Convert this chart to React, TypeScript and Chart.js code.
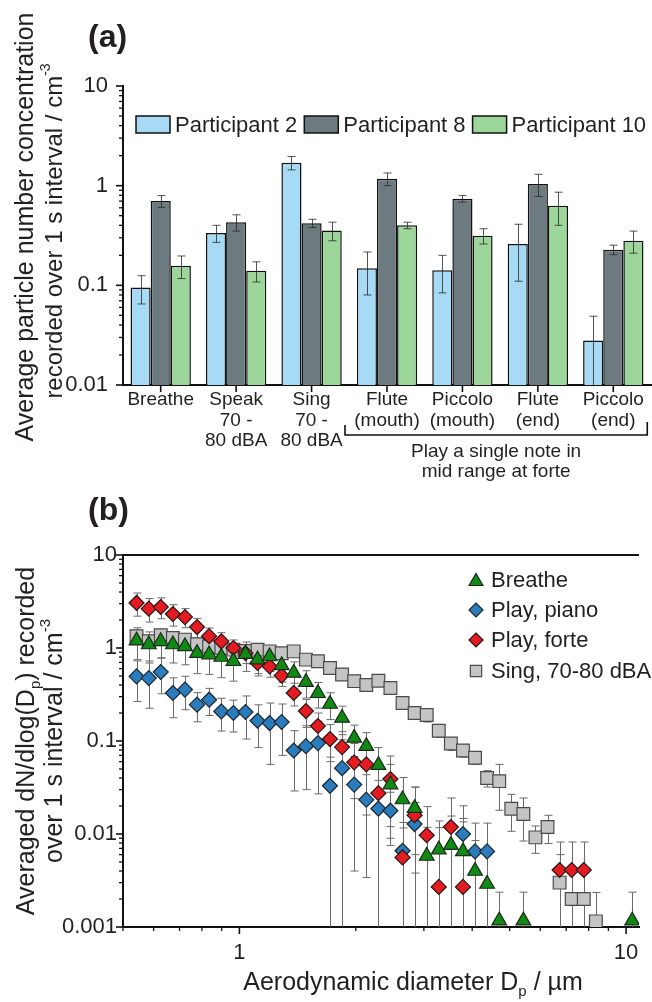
import React, { useEffect, useRef } from "react";
import Chart from "chart.js/auto";

const FONT = '"Liberation Sans", Arial, Helvetica, sans-serif';
const INK = "#231f20";

// ---- (a) average concentration per activity ----
const activities = [
  "Breathe",
  ["Speak", "70 -", "80 dBA"],
  ["Sing", "70 -", "80 dBA"],
  ["Flute", "(mouth)"],
  ["Piccolo", "(mouth)"],
  ["Flute", "(end)"],
  ["Piccolo", "(end)"],
];
const participantNames = ["Participant 2", "Participant 8", "Participant 10"];
const participant2 = [0.095, 0.335, 1.7, 0.148, 0.142, 0.26, 0.028];
const participant2Err = [0.03, 0.065, 0.26, 0.068, 0.058, 0.15, 0.021];
const participant8 = [0.7, 0.43, 0.42, 1.17, 0.74, 1.04, 0.228];
const participant8Err = [0.095, 0.08, 0.04, 0.17, 0.055, 0.26, 0.025];
const participant10 = [0.157, 0.14, 0.355, 0.4, 0.315, 0.63, 0.28];
const participant10Err = [0.04, 0.032, 0.075, 0.03, 0.055, 0.23, 0.07];

// ---- (b) size distributions (APS channel midpoints, µm) ----
const diameters = [
  0.542, 0.583, 0.626, 0.673, 0.723, 0.777, 0.835, 0.898, 0.965, 1.037,
  1.114, 1.197, 1.286, 1.382, 1.486, 1.596, 1.715, 1.843, 1.981, 2.129,
  2.288, 2.458, 2.642, 2.839, 3.051, 3.278, 3.523, 3.786, 4.068, 4.371,
  4.698, 5.048, 5.425, 5.829, 6.264, 6.732, 7.234, 7.774, 8.354, 8.977,
  9.647, 10.37,
];
const breathe = [
  1.2, 1.09, 1.18, 1.09, 1.04, 0.88, 0.85, 0.8, 0.72, 0.86,
  0.75, 0.81, 0.65, 0.54, 0.43, 0.326, 0.25, 0.177, 0.108, 0.088,
  0.055, 0.034, 0.0235, 0.019, 0.0058, 0.0068, 0.0076, 0.0065, 0.004, 0.0029,
  0.00117, null, 0.00117, null, null, null, null, null, null, null,
  null, 0.00117,
];
const breatheSd = [
  0.45, 0.4, 0.4, 0.4, 0.38, 0.35, 0.33, 0.32, 0.28, 0.3,
  0.25, 0.25, 0.22, 0.17, 0.14, 0.1, 0.08, 0.06, 0.04, 0.035,
  0.03, 0.022, 0.017, 0.013, 0.006, 0.007, 0.008, 0.007, 0.0045, 0.0035,
  0.0012, null, 0.0012, null, null, null, null, null, null, null,
  null, 0.0012,
];
const playPiano = [
  0.496, 0.475, 0.552, 0.328, 0.357, 0.246, 0.278, 0.208, 0.2, 0.205,
  0.165, 0.156, 0.16, 0.079, 0.088, 0.095, 0.033, 0.051, 0.034, 0.0234,
  0.0187, 0.0178, 0.0066, 0.0128, null, null, null, 0.01, 0.0065, 0.0065,
];
const playPianoSd = [
  0.23, 0.25, 0.23, 0.15, 0.14, 0.085, 0.09, 0.08, 0.075, 0.1,
  0.08, 0.1, 0.09, 0.05, 0.058, 0.068, 0.034, 0.052, 0.03, 0.02,
  0.019, 0.0103, 0.0067, 0.009, null, null, null, 0.0101, 0.0066, 0.0066,
];
const playForte = [
  3.05, 2.65, 2.76, 2.32, 2.15, 1.68, 1.34, 1.18, 1.0, 0.88,
  0.69, 0.635, 0.505, 0.328, 0.21, 0.145, 0.105, 0.086, 0.059, 0.056,
  0.0275, 0.039, 0.0056, 0.0159, 0.0097, 0.0027, 0.0119, 0.0027, null, null,
  null, null, null, null, null, 0.0041, 0.0041, 0.0041,
];
const playForteSd = [
  0.85, 0.75, 0.7, 0.6, 0.5, 0.4, 0.3, 0.28, 0.22, 0.2,
  0.16, 0.15, 0.12, 0.09, 0.07, 0.055, 0.045, 0.04, 0.035, 0.04,
  0.028, 0.03, 0.006, 0.016, 0.01, 0.009, 0.0125, 0.012, null, null,
  null, null, null, null, null, 0.0041, 0.0041, 0.0041,
];
const sing = [
  1.34, 1.18, 1.37, 1.28, 1.23, 1.1, 1.04, 1.0, 0.96, 0.93,
  0.96, 0.92, 0.88, 0.92, 0.75, 0.72, 0.61, 0.52, 0.44, 0.4,
  0.445, 0.372, 0.256, 0.2, 0.19, 0.129, 0.094, 0.079, 0.066, 0.04,
  0.037, 0.0187, 0.0164, 0.0092, 0.0119, 0.003, 0.002, 0.002, 0.00115,
];
const singSd = [
  0.2, 0.15, 0.15, 0.12, 0.12, 0.1, 0.1, 0.09, 0.08, 0.08,
  0.08, 0.07, 0.07, 0.07, 0.06, 0.05, 0.05, 0.05, 0.04, 0.04,
  0.05, 0.04, 0.03, 0.03, 0.03, 0.02, 0.015, 0.012, 0.01, 0.008,
  0.019, 0.008, 0.008, 0.003, 0.004, 0.003, 0.002, 0.002, 0.0012,
];

const points = (vals: any[], sds: any[]) =>
  diameters.flatMap((d, i) =>
    vals[i] == null ? [] : [{ x: d, y: vals[i], sd: sds[i] }]
  );

const isPow10 = (v: number) => {
  const l = Math.log10(v);
  return Math.abs(l - Math.round(l)) < 1e-6;
};
const isNice = (v: number) => {
  const e = Math.floor(Math.log10(v) + 1e-9);
  const m = v / Math.pow(10, e);
  return Math.abs(m - Math.round(m)) < 1e-6;
};
const logLabel = (v: any) => {
  if (!isPow10(v)) return "";
  const e = Math.round(Math.log10(v));
  return e >= 0 ? String(Math.pow(10, e)) : Math.pow(10, e).toFixed(-e);
};

// rich text: segments with optional sup / sub, centred on (x, y)
function drawRich(ctx: any, segs: any[], x: number, y: number, size: number, rotate: boolean) {
  ctx.save();
  ctx.translate(x, y);
  if (rotate) ctx.rotate(-Math.PI / 2);
  ctx.fillStyle = INK;
  ctx.textBaseline = "alphabetic";
  ctx.textAlign = "left";
  const fontFor = (s: any) => `${s.sup || s.sub ? Math.round(size * 0.6) : size}px ${FONT}`;
  const widths = segs.map((s) => {
    ctx.font = fontFor(s);
    return ctx.measureText(s.t).width;
  });
  let cx = -widths.reduce((a: number, b: number) => a + b, 0) / 2;
  segs.forEach((s, i) => {
    ctx.font = fontFor(s);
    const dy = s.sup ? -size * 0.48 : s.sub ? size * 0.22 : 0;
    ctx.fillText(s.t, cx, dy);
    cx += widths[i];
  });
  ctx.restore();
}

// tick marks: long at powers of ten / categories, short for log minors
const tickMarks = {
  id: "tickMarks",
  afterDraw(chart: any) {
    const ctx = chart.ctx;
    ctx.save();
    ctx.strokeStyle = "#111";
    Object.values(chart.scales).forEach((scale: any) => {
      const log = scale.type === "logarithmic";
      scale.ticks.forEach((t: any, i: number) => {
        let major = true;
        if (log) {
          if (!isNice(t.value)) return;
          major = isPow10(t.value);
        }
        const p = log ? scale.getPixelForValue(t.value) : scale.getPixelForTick(i);
        const len = major ? 7 : 4;
        ctx.lineWidth = major ? 1.6 : 1.3;
        ctx.beginPath();
        if (scale.isHorizontal()) {
          ctx.moveTo(p, scale.top);
          ctx.lineTo(p, scale.top + len);
        } else {
          ctx.moveTo(scale.right - len, p);
          ctx.lineTo(scale.right, p);
        }
        ctx.stroke();
      });
    });
    ctx.restore();
  },
};

function errorStroke(ctx: any, x: number, top: number, bottom: number, capBottom: boolean, half: number) {
  ctx.beginPath();
  ctx.moveTo(x, top);
  ctx.lineTo(x, bottom);
  ctx.moveTo(x - half, top);
  ctx.lineTo(x + half, top);
  if (capBottom) {
    ctx.moveTo(x - half, bottom);
    ctx.lineTo(x + half, bottom);
  }
  ctx.stroke();
}

const barErrors = {
  id: "barErrors",
  afterDatasetsDraw(chart: any) {
    const { ctx, chartArea: ca, scales } = chart;
    const y = scales.y;
    ctx.save();
    ctx.beginPath();
    ctx.rect(ca.left, ca.top, ca.right - ca.left, ca.bottom - ca.top);
    ctx.clip();
    ctx.strokeStyle = "rgba(40,40,40,0.8)";
    ctx.lineWidth = 1;
    chart.data.datasets.forEach((ds: any, i: number) => {
      chart.getDatasetMeta(i).data.forEach((bar: any, j: number) => {
        const v = ds.data[j];
        const e = ds.errors[j];
        const lo = v - e;
        const x = Math.round(bar.x) + 0.5;
        const top = y.getPixelForValue(v + e);
        const clipped = lo <= y.min;
        const bottom = clipped ? ca.bottom + 2 : y.getPixelForValue(lo);
        errorStroke(ctx, x, top, bottom, !clipped, 4);
      });
    });
    ctx.restore();
  },
};

const pointErrors = {
  id: "pointErrors",
  beforeDatasetsDraw(chart: any) {
    const { ctx, chartArea: ca, scales } = chart;
    const y = scales.y;
    ctx.save();
    ctx.beginPath();
    ctx.rect(ca.left, ca.top, ca.right - ca.left, ca.bottom - ca.top);
    ctx.clip();
    ctx.strokeStyle = "#6a6a6a";
    ctx.lineWidth = 1;
    chart.data.datasets.forEach((ds: any, i: number) => {
      chart.getDatasetMeta(i).data.forEach((pt: any, j: number) => {
        const d = ds.data[j];
        if (d.sd == null) return;
        const lo = d.y - d.sd;
        const x = Math.round(pt.x) + 0.5;
        const top = y.getPixelForValue(d.y + d.sd);
        const clipped = lo <= y.min;
        const bottom = clipped ? ca.bottom + 2 : y.getPixelForValue(lo);
        errorStroke(ctx, x, top, bottom, !clipped, 4);
      });
    });
    ctx.restore();
  },
};

const decorA = {
  id: "decorA",
  afterDraw(chart: any) {
    const { ctx, scales } = chart;
    ctx.save();
    ctx.fillStyle = INK;
    ctx.font = `bold 32px ${FONT}`;
    ctx.textBaseline = "alphabetic";
    ctx.fillText("(a)", 88, 47);

    drawRich(ctx, [{ t: "Average particle number concentration" }], 33, 227, 25, true);
    drawRich(ctx, [{ t: "recorded over 1 s interval / cm" }, { t: "-3", sup: true }], 62, 231, 24, true);

    // legend
    ctx.font = `22px ${FONT}`;
    ctx.textBaseline = "middle";
    let lx = 136;
    const ly = 124.5;
    chart.data.datasets.forEach((ds: any) => {
      ctx.fillStyle = ds.backgroundColor;
      ctx.fillRect(lx, ly - 8.5, 34, 17);
      ctx.strokeStyle = "#111";
      ctx.lineWidth = 1.5;
      ctx.strokeRect(lx, ly - 8.5, 34, 17);
      ctx.fillStyle = INK;
      ctx.fillText(ds.label, lx + 39, ly + 1);
      lx += 39 + ctx.measureText(ds.label).width + 7;
    });

    // bracket over the instrument groups
    const x = scales.x;
    const bl = x.getPixelForTick(3) - 42;
    const br = x.getPixelForTick(6) + 34;
    ctx.strokeStyle = "#111";
    ctx.lineWidth = 1.6;
    ctx.beginPath();
    ctx.moveTo(bl, 425);
    ctx.lineTo(bl, 435);
    ctx.lineTo(br, 435);
    ctx.lineTo(br, 422);
    ctx.stroke();
    ctx.fillStyle = INK;
    ctx.font = `19px ${FONT}`;
    ctx.textAlign = "center";
    ctx.fillText("Play a single note in", (bl + br) / 2, 452);
    ctx.fillText("mid range at forte", (bl + br) / 2, 472);
    ctx.restore();
  },
};

function drawMarker(ctx: any, style: string, x: number, y: number, r: number, fill: string, stroke: string) {
  ctx.beginPath();
  if (style === "triangle") {
    ctx.moveTo(x, y - r);
    ctx.lineTo(x + r * 0.866, y + r * 0.5);
    ctx.lineTo(x - r * 0.866, y + r * 0.5);
  } else if (style === "rectRot") {
    ctx.moveTo(x, y - r);
    ctx.lineTo(x + r, y);
    ctx.lineTo(x, y + r);
    ctx.lineTo(x - r, y);
  } else {
    const s = r * Math.SQRT1_2;
    ctx.rect(x - s, y - s, 2 * s, 2 * s);
  }
  ctx.closePath();
  ctx.fillStyle = fill;
  ctx.fill();
  ctx.strokeStyle = stroke;
  ctx.lineWidth = 1.2;
  ctx.stroke();
}

const decorB = {
  id: "decorB",
  afterDraw(chart: any) {
    const { ctx, chartArea: ca } = chart;
    ctx.save();
    // top frame line
    ctx.strokeStyle = "#111";
    ctx.lineWidth = 2;
    ctx.beginPath();
    ctx.moveTo(ca.left, ca.top);
    ctx.lineTo(ca.right, ca.top);
    ctx.stroke();

    ctx.fillStyle = INK;
    ctx.font = `bold 32px ${FONT}`;
    ctx.textBaseline = "alphabetic";
    ctx.fillText("(b)", 88, 30);

    const cy = (ca.top + ca.bottom) / 2;
    drawRich(ctx, [{ t: "Averaged dN/dlog(D" }, { t: "p", sub: true }, { t: ") recorded" }], 34, cy, 25, true);
    drawRich(ctx, [{ t: "over 1 s interval / cm" }, { t: "-3", sup: true }], 62, cy, 25, true);
    drawRich(ctx, [{ t: "Aerodynamic diameter D" }, { t: "p", sub: true }, { t: " / µm" }], 413, 500, 25, false);

    // legend
    ctx.font = `22px ${FONT}`;
    ctx.textBaseline = "middle";
    const rowsY = [90, 120, 150, 181];
    chart.data.datasets.forEach((ds: any, i: number) => {
      const y = rowsY[i];
      const r = ds.pointStyle === "triangle" ? 8 : ds.pointStyle === "rect" ? 8 : 7;
      drawMarker(ctx, ds.pointStyle, 476, ds.pointStyle === "triangle" ? y + 1.5 : y, r, ds.backgroundColor, ds.borderColor);
      ctx.fillStyle = INK;
      ctx.fillText(ds.label, 491, y + 1);
    });
    ctx.restore();
  },
};

const axisFont = (size: number) => ({ family: FONT, size });

function configA(): any {
  const colors = ["#a6daf5", "#6d7b81", "#9dd69b"];
  const series = [participant2, participant8, participant10];
  const errs = [participant2Err, participant8Err, participant10Err];
  return {
    type: "bar",
    data: {
      labels: activities,
      datasets: participantNames.map((name, i) => ({
        label: name,
        data: series[i],
        errors: errs[i],
        backgroundColor: colors[i],
        borderColor: "#111",
        borderWidth: 1.5,
        categoryPercentage: 0.8,
        barPercentage: 1,
      })),
    },
    options: {
      animation: false,
      responsive: false,
      layout: { padding: { top: 86, right: 1, left: 0, bottom: 0 } },
      plugins: { legend: { display: false }, tooltip: { enabled: false } },
      scales: {
        x: {
          type: "category",
          grid: { display: false, drawTicks: false },
          border: { display: true, color: "#111", width: 2 },
          ticks: {
            color: INK,
            font: { family: FONT, size: 19, lineHeight: 1.1 },
            padding: 4,
            maxRotation: 0,
            autoSkip: false,
          },
          afterFit: (s: any) => {
            s.height = 105;
          },
        },
        y: {
          type: "logarithmic",
          min: 0.01,
          max: 10,
          grid: { display: false, drawTicks: false },
          border: { display: true, color: "#111", width: 2 },
          ticks: {
            color: INK,
            font: axisFont(22),
            padding: 15,
            autoSkip: false,
            callback: logLabel,
          },
          afterFit: (s: any) => {
            s.width = 123;
          },
        },
      },
    },
    plugins: [barErrors, tickMarks, decorA],
  };
}

function configB(): any {
  return {
    type: "scatter",
    data: {
      datasets: [
        {
          label: "Breathe",
          data: points(breathe, breatheSd),
          pointStyle: "triangle",
          pointRadius: 8.5,
          backgroundColor: "#108a12",
          borderColor: "#1a2a1a",
          order: 0,
        },
        {
          label: "Play, piano",
          data: points(playPiano, playPianoSd),
          pointStyle: "rectRot",
          pointRadius: 7.5,
          backgroundColor: "#2b7cbd",
          borderColor: "#1c2630",
          order: 2,
        },
        {
          label: "Play, forte",
          data: points(playForte, playForteSd),
          pointStyle: "rectRot",
          pointRadius: 7.5,
          backgroundColor: "#e41b20",
          borderColor: "#2a1515",
          order: 1,
        },
        {
          label: "Sing, 70-80 dBA",
          data: points(sing, singSd),
          pointStyle: "rect",
          pointRadius: 9,
          backgroundColor: "#c4c4c4",
          borderColor: "#4a4a4a",
          order: 3,
        },
      ].map((d) => ({ ...d, pointBorderWidth: 1.2, pointHoverRadius: d.pointRadius, showLine: false })),
    },
    options: {
      animation: false,
      responsive: false,
      layout: { padding: { top: 65, right: 0, left: 0, bottom: 0 } },
      plugins: { legend: { display: false }, tooltip: { enabled: false } },
      scales: {
        x: {
          type: "logarithmic",
          min: 0.5,
          max: 10.8,
          grid: { display: false, drawTicks: false },
          border: { display: true, color: "#111", width: 2 },
          ticks: {
            color: INK,
            font: axisFont(22),
            padding: 13,
            autoSkip: false,
            maxRotation: 0,
            callback: logLabel,
          },
          afterFit: (s: any) => {
            s.height = 75;
          },
        },
        y: {
          type: "logarithmic",
          min: 0.001,
          max: 10,
          grid: { display: false, drawTicks: false },
          border: { display: true, color: "#111", width: 2 },
          ticks: {
            color: INK,
            font: axisFont(22),
            padding: 6,
            autoSkip: false,
            callback: logLabel,
          },
          afterFit: (s: any) => {
            s.width = 123;
          },
        },
      },
    },
    plugins: [pointErrors, tickMarks, decorB],
  };
}

export default function App() {
  const aRef = useRef<HTMLCanvasElement>(null);
  const bRef = useRef<HTMLCanvasElement>(null);

  useEffect(() => {
    const a = new Chart(aRef.current as any, configA());
    const b = new Chart(bRef.current as any, configB());
    return () => {
      a.destroy();
      b.destroy();
    };
  }, []);

  return (
    <div style={{ position: "absolute", left: 0, top: 0, width: 652, height: 1002, background: "#fff" }}>
      <canvas ref={aRef} width={652} height={490} style={{ display: "block", width: 652, height: 490 }} />
      <canvas ref={bRef} width={652} height={512} style={{ display: "block", width: 652, height: 512 }} />
    </div>
  );
}
